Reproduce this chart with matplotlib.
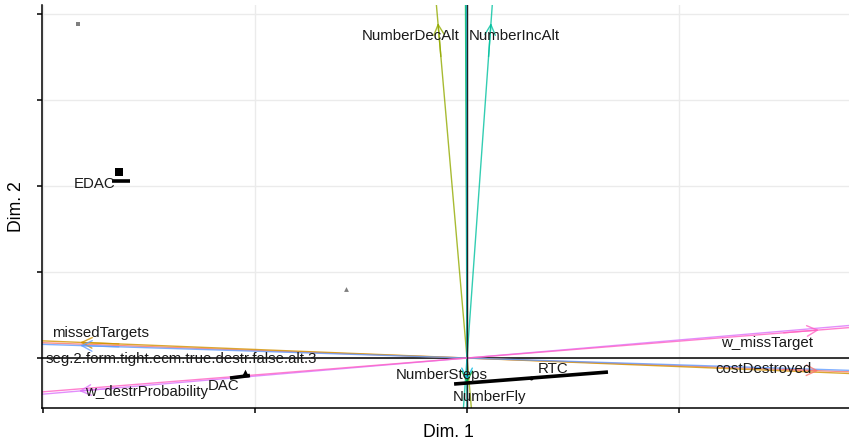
import matplotlib
matplotlib.use('Agg')
import matplotlib.pyplot as plt
import numpy as np

plt.rcParams['font.family'] = ['Liberation Sans', 'DejaVu Sans']

# ---------------- data ----------------
var_names = ['costDestroyed', 'missedTargets', 'NumberDecAlt', 'NumberFly',
             'NumberIncAlt', 'NumberSteps', 'seg.2.form.tight.ecm.true.destr.false.alt.3',
             'w_destrProbability', 'w_missTarget']
var_x = [1.657, -1.825, -0.137, 0.0005, 0.113, 0.0002, -1.825, -1.830, 1.660]
var_y = [-0.147, 0.182, 3.895, -0.290, 3.895, -0.256, 0.145, -0.384, 0.326]
var_colors = ['#F8766D', '#D39200', '#93AA00', '#00BA38', '#00C19F', '#00B9E3',
              '#619CFF', '#DB72FB', '#FF61C3']
# label positions (centre x, baseline y)
lab_x = [1.400, -1.727, -0.264, 0.107, 0.224, -0.118, -1.348, -1.513, 1.415]
lab_y = [-0.178, 0.248, 3.698, -0.500, 3.698, -0.248, -0.062, -0.442, 0.124]

point_names = ['', 'EDAC', '', 'DAC', 'RTC']
point_x = [-1.835, -1.642, -0.571, -1.047, 0.304]
point_y = [3.884, 2.163, 0.802, -0.174, -0.233]
point_markers = ['s', 's', '^', '^', 'o']
point_colors = ['#7F7F7F', '#000000', '#7F7F7F', '#000000', '#000000']
point_sizes = [12, 30, 12, 30, 8]
point_lab_x = [0, -1.755, 0, -1.150, 0.405]
point_lab_y = [0, 1.981, 0, -0.372, -0.171]

seg_x0 = [-1.675, -1.118, -0.061]
seg_y0 = [2.064, -0.233, -0.302]
seg_x1 = [-1.590, -1.024, 0.665]
seg_y1 = [2.064, -0.203, -0.163]

x_ticks = [-2, -1, 0, 1]
y_ticks = [0, 1, 2, 3, 4]

# ---------------- figure ----------------
W, H = 849, 443
fig = plt.figure(figsize=(W / 100, H / 100), dpi=100)
ax = fig.add_axes([42 / W, (443 - 408) / H, (849 - 42) / W, (408 - 5) / H])
ax.set_xlim(-2.005, 1.802)
ax.set_ylim(-0.581, 4.105)

ax.set_xticks(x_ticks)
ax.set_yticks(y_ticks)
ax.set_xticklabels([])
ax.set_yticklabels([])
ax.grid(True, color='#EBEBEB', lw=1.0, zorder=0)
ax.set_axisbelow(True)
for s in ['top', 'right']:
    ax.spines[s].set_visible(False)
for s in ['left', 'bottom']:
    ax.spines[s].set_linewidth(1.1)
ax.tick_params(length=3.5, width=1.1, color='black')

ax.axhline(0, color='black', lw=1.1, zorder=1)

for x, y, c in zip(var_x, var_y, var_colors):
    ax.axline((0, 0), (x, y), color=c, lw=1.0, alpha=0.8, zorder=2)
    ax.annotate('', xy=(x, y), xytext=(x * 0.9, y * 0.9),
                arrowprops=dict(arrowstyle='->,head_length=0.75,head_width=0.38',
                                color=c, lw=1.0, alpha=0.8,
                                shrinkA=0, shrinkB=0), zorder=3)

ax.axvline(0, color='#222222', lw=1.0, zorder=2.5)

for name, lx, ly in zip(var_names, lab_x, lab_y):
    ax.text(lx, ly, name, ha='center', va='baseline', fontsize=10.8, color='#1a1a1a', zorder=5)

for x0, y0, x1, y1 in zip(seg_x0, seg_y0, seg_x1, seg_y1):
    ax.plot([x0, x1], [y0, y1], color='black', lw=2.6, solid_capstyle='butt', zorder=4)

for x, y, m, c, s in zip(point_x, point_y, point_markers, point_colors, point_sizes):
    ax.scatter([x], [y], marker=m, c=c, s=s, linewidths=0, zorder=4)

for name, lx, ly in zip(point_names, point_lab_x, point_lab_y):
    if name:
        ax.text(lx, ly, name, ha='center', va='baseline', fontsize=10.8, color='#1a1a1a', zorder=5)

fig.text(448.5 / W, 1 - 437.3 / H, 'Dim. 1', ha='center', va='baseline', fontsize=12.7)
fig.text(16.7 / W, 1 - 206.5 / H, 'Dim. 2', ha='center', va='center', rotation=90, fontsize=12.7)

fig.savefig('out.png', dpi=100)
